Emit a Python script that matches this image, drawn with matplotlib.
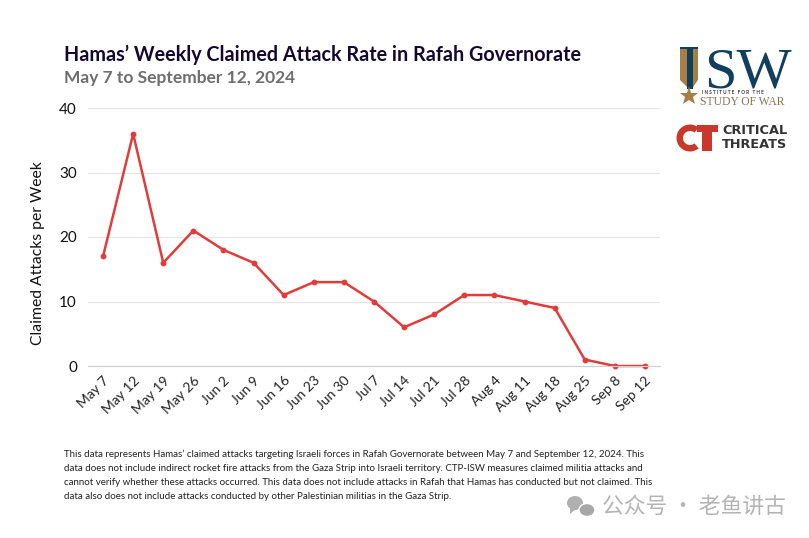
import matplotlib
matplotlib.use('Agg')
import matplotlib.pyplot as plt
from matplotlib.patches import Ellipse, Polygon, Rectangle, Wedge

W = 809
H = 538

weeks = ['May 7', 'May 12', 'May 19', 'May 26', 'Jun 2', 'Jun 9', 'Jun 16', 'Jun 23', 'Jun 30',
	'Jul 7', 'Jul 14', 'Jul 21', 'Jul 28', 'Aug 4', 'Aug 11', 'Aug 18', 'Aug 25', 'Sep 8', 'Sep 12']
attacks = [17, 36, 16, 21, 18, 16, 11, 13, 13, 10, 6, 8, 11, 11, 10, 9, 1, 0, 0]
y_ticks = [0, 10, 20, 30, 40]

title = 'Hamas\u2019 Weekly Claimed Attack Rate in Rafah Governorate'
subtitle = 'May 7 to September 12, 2024'
y_label = 'Claimed Attacks per Week'
note = [
	'This data represents Hamas\u2019 claimed attacks targeting Israeli forces in Rafah Governorate between May 7 and September 12, 2024. This',
	'data does not include indirect rocket fire attacks from the Gaza Strip into Israeli territory. CTP-ISW measures claimed militia attacks and',
	'cannot verify whether these attacks occurred. This data does not include attacks in Rafah that Hamas has conducted but not claimed. This',
	'data also does not include attacks conducted by other Palestinian militias in the Gaza Strip.',
]

plt.rcParams['font.family'] = ['Lato', 'DejaVu Sans']

def fx(px):
	return px / W

def fy(px):
	return 1 - px / H

fig = plt.figure(figsize=(W / 100, H / 100), dpi=100)
ax = fig.add_axes([fx(88), fy(366), (660 - 88) / W, (366 - 108) / H])

ax.plot(range(len(weeks)), attacks, color='#e03c3c', linewidth=1.8, marker='o', markersize=3.2, clip_on=False)
ax.set_xlim(-0.5, len(weeks) - 0.5)
ax.set_ylim(0, 40)
ax.set_yticks(y_ticks)
ax.tick_params(axis='y', length=0, labelsize=11, pad=8, labelcolor='#111111')
ax.set_xticks(range(len(weeks)))
ax.set_xticklabels(weeks, rotation=45, ha='right', rotation_mode='anchor', fontsize=10, color='#222222')
ax.tick_params(axis='x', length=0, pad=6)
ax.grid(True, axis='y', color='#e6e6e6', linewidth=0.9)
ax.set_axisbelow(True)
for s in ax.spines.values():
	s.set_visible(False)
ax.spines['bottom'].set_visible(True)
ax.spines['bottom'].set_color('#d0d0d0')

fig.text(fx(38), fy(253), y_label, rotation=90, ha='center', va='center', fontsize=11.3, color='#111111')
fig.text(fx(64), fy(55), title, ha='left', va='center', fontsize=14.2, fontweight='bold', color='#14082e')
fig.text(fx(64), fy(78), subtitle, ha='left', va='center', fontsize=12.5, fontweight='bold', color='#6e6e6e')

for i, line in enumerate(note):
	fig.text(fx(64), fy(454 + i * 14.2), line, ha='left', va='center', fontsize=7.05, color='#222222')

# logos, drawn on a full figure overlay in pixel coordinates
ov = fig.add_axes([0, 0, 1, 1], facecolor='none')
ov.set_xlim(0, W)
ov.set_ylim(H, 0)
ov.axis('off')

# ISW pillar
ov.add_patch(Polygon([(680, 49), (687, 49), (687, 87), (680, 80)], color='#a57f45', lw=0))
ov.add_patch(Polygon([(693, 49), (698, 49), (698, 80), (693, 87)], color='#a57f45', lw=0))
ov.add_patch(Rectangle((680, 47), 18, 2, color='#123f5c', lw=0))
ov.add_patch(Rectangle((687, 47), 6, 42, color='#123f5c', lw=0))
ov.text(704, 87, 'SW', fontsize=42, family='Liberation Serif', color='#123f5c', ha='left', va='baseline')
ov.plot([689], [96], marker='*', markersize=14, color='#a57f45', markeredgewidth=0)
ov.text(702, 93, 'I N S T I T U T E   F O R   T H E', fontsize=3.3, fontweight='bold', color='#333333', ha='left', va='center')
ov.text(700, 102, 'STUDY OF WAR', fontsize=8.4, family='Liberation Serif', color='#8a7350', ha='left', va='center')

# Critical Threats mark
ov.add_patch(Wedge((690, 138), 13.5, 50, 310, width=6.5, color='#c8392b', lw=0))
ov.add_patch(Rectangle((697, 125), 21, 6.5, color='#c8392b', lw=0))
ov.add_patch(Rectangle((702, 125), 10, 26, color='#c8392b', lw=0))
ov.text(722, 131, 'CRITICAL', fontsize=9.3, fontweight='bold', family='DejaVu Sans', color='#333333', ha='left', va='center')
ov.text(722, 144, 'THREATS', fontsize=9.3, fontweight='bold', family='DejaVu Sans', color='#333333', ha='left', va='center')

# watermark
ov.add_patch(Ellipse((575, 503), 16, 14, color='#b0b0b0', lw=0))
ov.add_patch(Polygon([(570, 508), (576, 509), (570, 514)], color='#b0b0b0', lw=0))
ov.add_patch(Ellipse((587, 510), 16, 13, facecolor='#a8a8a8', edgecolor='white', lw=1))
ov.text(602, 507, '\u516c\u4f17\u53f7 \u00b7 \u8001\u9c7c\u8bb2\u53e4', fontsize=15.7, color='#b4b4b4', ha='left', va='center',
	family=['Noto Sans CJK SC', 'DejaVu Sans'])

fig.savefig('out.png', dpi=100, facecolor='white')
